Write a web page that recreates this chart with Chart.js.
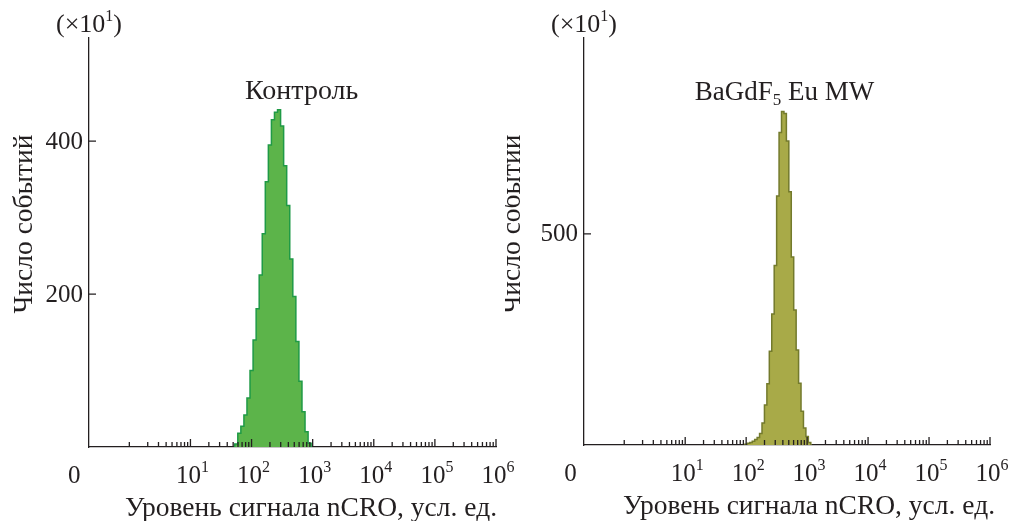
<!DOCTYPE html>
<html>
<head>
<meta charset="utf-8">
<script src="https://cdn.jsdelivr.net/npm/chart.js@4.4.1/dist/chart.umd.min.js"></script>
<style>
  body { margin: 0; background: #fff; }
  .panel { position: absolute; top: 0; height: 521px; }
  #left { left: 0; width: 530px; }
  #right { left: 505px; width: 506px; }
</style>
</head>
<body>
<div class="panel" id="left"><canvas id="ctrlChart"></canvas></div>
<div class="panel" id="right"><canvas id="mwChart"></canvas></div>
<script>
// histogram bins: log10 of the nCRO signal (bin centre) and events (x10)
const ctrlLog = [1.70, 1.75, 1.80, 1.85, 1.90, 1.95, 2.00, 2.05, 2.10, 2.15, 2.20, 2.25, 2.30, 2.35,
                 2.40, 2.45, 2.50, 2.55, 2.60, 2.65, 2.70, 2.75, 2.80, 2.85, 2.90, 2.95, 3.00];
const ctrlCounts = [0, 4, 18, 27, 42, 64, 100, 140, 181, 225, 279, 347, 395, 428,
                    438, 441, 420, 368, 316, 246, 197, 138, 86, 46, 20, 5, 0];

const mwLog = [1.96, 2.00, 2.04, 2.08, 2.12, 2.16, 2.20, 2.24, 2.28, 2.32, 2.36, 2.40, 2.44, 2.48, 2.52,
               2.56, 2.60, 2.64, 2.68, 2.72, 2.76, 2.80, 2.84, 2.88, 2.92, 2.96, 3.00, 3.04, 3.08];
const mwCounts = [0, 2, 4, 6, 9, 13, 18, 27, 52, 95, 145, 222, 310, 425, 590,
                  740, 790, 785, 720, 600, 445, 320, 225, 146, 80, 40, 20, 6, 0];

const decades = [1, 2, 3, 4, 5, 6];
const ctrlYTicks = [200, 400];
const mwYTicks = [500];

const yTitle = 'Число событий';
const xTitle = 'Уровень сигнала nCRO, усл. ед.';
const FONT = '"Liberation Serif", "Times New Roman", serif';
const INK = '#231f20';

// draw text made of pieces [text, size, dy] (for super/subscripts)
function drawRich(ctx, parts, x, y, align) {
  let w = 0;
  parts.forEach(p => { ctx.font = p[1] + 'px ' + FONT; w += ctx.measureText(p[0]).width; });
  let cx = align === 'center' ? x - w / 2 : (align === 'right' ? x - w : x);
  ctx.textAlign = 'left';
  ctx.textBaseline = 'alphabetic';
  parts.forEach(p => {
    ctx.font = p[1] + 'px ' + FONT;
    ctx.fillText(p[0], cx, y + (p[2] || 0));
    cx += ctx.measureText(p[0]).width;
  });
}

const flowAxes = {
  id: 'flowAxes',
  afterDraw(chart, args, opts) {
    const ctx = chart.ctx;
    const xs = chart.scales.x, ys = chart.scales.y;
    const area = chart.chartArea;
    ctx.save();
    ctx.strokeStyle = INK;
    ctx.fillStyle = INK;
    ctx.lineWidth = 1.3;

    // log ticks pointing inward
    ctx.beginPath();
    for (let d = 0; d <= 6; d++) {
      for (let k = 1; k <= 9; k++) {
        const v = d + Math.log10(k);
        if (v > 6) break;
        const px = xs.getPixelForValue(v);
        const len = (k === 1 && d > 0) ? 8 : 5;
        ctx.moveTo(px, area.bottom);
        ctx.lineTo(px, area.bottom - len);
      }
    }
    opts.yTicks.forEach(t => {
      const py = ys.getPixelForValue(t);
      ctx.moveTo(area.left, py);
      ctx.lineTo(area.left + 7, py);
    });
    ctx.stroke();

    // x tick labels
    decades.forEach(d => {
      drawRich(ctx, [['10', 25], [String(d), 16, -11]], xs.getPixelForValue(d) + 2, area.bottom + 36, 'center');
    });
    drawRich(ctx, [['0', 25]], xs.getPixelForValue(opts.zeroAt), area.bottom + 36, 'center');

    // y tick labels
    ctx.font = '25px ' + FONT;
    ctx.textAlign = 'right';
    ctx.textBaseline = 'middle';
    opts.yTicks.forEach(t => ctx.fillText(String(t), area.left - 6, ys.getPixelForValue(t) + 1));

    // multiplier above the y axis
    drawRich(ctx, [['(×10', 26], ['1', 16, -11], [')', 26]], area.left, area.top - 6, 'center');

    // sample name
    drawRich(ctx, opts.title, xs.getPixelForValue(opts.titleAt[0]), ys.getPixelForValue(opts.titleAt[1]), 'center');

    // axis titles
    drawRich(ctx, [[xTitle, 27.5]], area.right + opts.xTitleDx, area.bottom + 69, 'right');
    ctx.save();
    ctx.translate(opts.yTitleX, 224);
    ctx.rotate(-Math.PI / 2);
    drawRich(ctx, [[yTitle, 27.5]], 0, 0, 'center');
    ctx.restore();

    ctx.restore();
  }
};

function makeChart(id, xs, ys, yMax, fill, line, pad, extra) {
  return new Chart(document.getElementById(id), {
    type: 'line',
    data: {
      datasets: [{
        data: xs.map((x, i) => ({ x: x, y: ys[i] })),
        stepped: 'middle',
        fill: 'origin',
        backgroundColor: fill,
        borderColor: line,
        borderWidth: 1.5,
        pointRadius: 0
      }]
    },
    options: {
      responsive: true,
      maintainAspectRatio: false,
      animation: false,
      layout: { padding: pad },
      plugins: {
        legend: { display: false },
        tooltip: { enabled: false },
        flowAxes: extra
      },
      scales: {
        x: {
          type: 'linear', min: -0.66, max: 6,
          grid: { display: false },
          ticks: { display: false },
          border: { color: INK, width: 1.3 }
        },
        y: {
          min: 0, max: yMax,
          grid: { display: false },
          ticks: { display: false },
          border: { color: INK, width: 1.3 }
        }
      }
    },
    plugins: [flowAxes]
  });
}

makeChart('ctrlChart', ctrlLog, ctrlCounts, 535, '#5cb44a', '#1f9a46',
  { left: 81, right: 34, top: 38, bottom: 66 },
  { yTicks: ctrlYTicks, zeroAt: -0.9, yTitleX: 32, xTitleDx: 1,
    title: [['Контроль', 28]], titleAt: [2.82, 455] });

makeChart('mwChart', mwLog, mwCounts, 964, '#a8aa48', '#737a2c',
  { left: 71, right: 21, top: 38, bottom: 68 },
  { yTicks: mwYTicks, zeroAt: -0.88, yTitleX: 15, xTitleDx: 5,
    title: [['BaGdF', 27], ['5', 17, 5], [' Eu MW', 27]], titleAt: [2.63, 817] });
</script>
</body>
</html>
